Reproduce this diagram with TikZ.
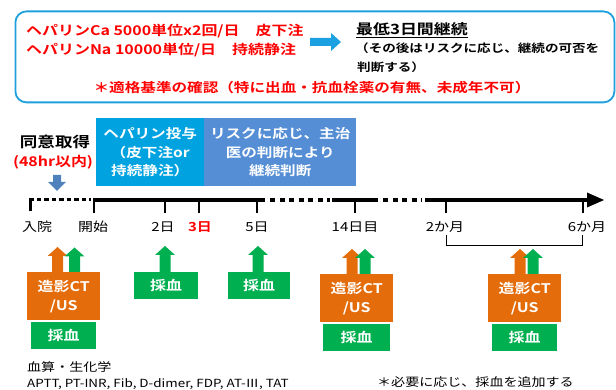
\documentclass[tikz,border=0pt]{standalone}
\usepackage{fontspec}
\setmainfont{Noto Sans CJK JP}[FakeStretch=1.2,BoldFont={Noto Sans CJK JP Bold}]
\usetikzlibrary{arrows.meta}
\definecolor{topblue}{RGB}{30,160,220}
\definecolor{arrblue}{RGB}{27,161,226}
\definecolor{cyanbox}{RGB}{0,163,224}
\definecolor{bluebox}{RGB}{85,142,213}
\definecolor{downblue}{RGB}{79,129,189}
\definecolor{orng}{RGB}{228,108,10}
\definecolor{grn}{RGB}{0,176,80}
\definecolor{redtxt}{RGB}{255,0,0}
\newcommand\blkup[4]{% x, tip y, bottom y, colour
  \fill[#4] (#1-10,#2+9) -- (#1,#2) -- (#1+10,#2+9) -- (#1+5.5,#2+9) -- (#1+5.5,#3) -- (#1-5.5,#3) -- (#1-5.5,#2+9) -- cycle;}
\begin{document}
\begin{tikzpicture}[x=1pt,y=-1pt,
  txt/.style={inner sep=0pt},
  redb/.style={txt,text=redtxt,font=\fontsize{13.3}{16}\selectfont\bfseries},
  blk/.style={txt,font=\fontsize{14.1}{17}\selectfont\bfseries},
  tl/.style={txt,font=\fontsize{12.5}{15}\selectfont},
  wbox/.style={inner sep=0pt,text=white,align=center,font=\fontsize{13.3}{19}\selectfont\bfseries},
  orbox/.style={wbox,fill=orng,minimum width=73pt,minimum height=48pt},
  grbox/.style={wbox,fill=grn,minimum width=65pt,minimum height=27pt},
  tick/.style={line width=2.6pt},
  axis/.style={line width=4pt},
  dots/.style={line width=4pt,dash pattern=on 5pt off 4.5pt}]
\useasboundingbox (0,0) rectangle (616,390);
% top box
\node[draw=topblue,line width=1.8pt,rounded corners=11pt,minimum width=599pt,minimum height=91pt,anchor=north west] (topbox) at (14.5,10.5) {};
\node[redb,anchor=west] (ca) at (26,31) {ヘパリンCa 5000単位x2回/日　皮下注};
\node[redb,anchor=west] (na) at (26,50) {ヘパリンNa 10000単位/日　持続静注};
\fill[arrblue] (310,38) -- (331,38) -- (331,33) -- (341,42) -- (331,51) -- (331,46) -- (310,46) -- cycle;
\node[blk,anchor=west] (min3) at (356,30) {\underline{最低3日間継続}};
\node[blk,anchor=west,font=\fontsize{11.3}{17}\selectfont\bfseries] (after1) at (355,48) {（その後はリスクに応じ、継続の可否を};
\node[blk,anchor=west,font=\fontsize{11.3}{17}\selectfont\bfseries] (after2) at (357,67) {判断する）};
\node[redb,font=\fontsize{13}{16}\selectfont\bfseries] (crit) at (312,88) {＊適格基準の確認（特に出血・抗血栓薬の有無、未成年不可）};
% consent
\node[blk,font=\fontsize{14.6}{20}\selectfont\bfseries] (consent) at (55,142) {同意取得};
\node[redb,font=\fontsize{13.3}{18}\selectfont\bfseries] (h48) at (53,162) {(48hr以内)};
\fill[downblue] (53,175) -- (61,175) -- (61,182) -- (66,182) -- (57,191) -- (48,182) -- (53,182) -- cycle;
% phase boxes
\node[wbox,fill=cyanbox,minimum width=108pt,minimum height=68pt,anchor=north west,font=\fontsize{13}{18.5}\selectfont\bfseries] (hep) at (96,118) {ヘパリン投与\\（皮下注or\\持続静注）};
\node[wbox,fill=bluebox,minimum width=152pt,minimum height=68pt,anchor=north west,font=\fontsize{13}{18.5}\selectfont\bfseries] (risk) at (204,118) {リスクに応じ、主治\\医の判断により\\継続判断};
% timeline
\draw[line width=3pt,dash pattern=on 4.5pt off 3pt] (29,200) -- (91,200);
\draw[axis] (93,200) -- (265,200);
\draw[dots] (270,200) -- (330,200);
\draw[axis] (332,200) -- (378,200);
\draw[dots] (383,200) -- (422,200);
\draw[axis] (425,200) -- (590,200);
\fill (587,192.5) -- (604,200) -- (587,207.5) -- cycle;
\draw[tick] (30.5,200) -- (30.5,211);
\foreach \x in {94,165,199,257,355,446,583} \draw[tick] (\x,199) -- (\x,213);
% labels
\node[tl] (l0) at (37,227) {入院};
\node[tl] (l1) at (93,227) {開始};
\node[tl] (l2) at (163,227) {2日};
\node[tl,text=redtxt,font=\fontsize{12.5}{15}\selectfont\bfseries] (l3) at (200,227) {3日};
\node[tl] (l5) at (257,227) {5日};
\node[tl] (l14) at (355,227) {14日目};
\node[tl] (l2m) at (445,227) {2か月};
\node[tl] (l6m) at (587,227) {6か月};
\draw[line width=1pt] (446.5,235) -- (446.5,245.5) -- (582.5,245.5) -- (582.5,235);
% arrows
\blkup{57.5}{247}{274}{orng}
\blkup{74.5}{247.5}{274}{grn}
\blkup{165}{246}{274}{grn}
\blkup{258}{246}{274}{grn}
\blkup{352}{249}{276}{orng}
\blkup{365}{249}{276}{grn}
\blkup{520}{249}{276}{orng}
\blkup{533}{249}{276}{grn}
% boxes
\node[orbox,anchor=north west] (ct1) at (27,272) {造影CT\\/US};
\node[grbox,anchor=north west] (b1) at (31,322) {採血};
\node[grbox,anchor=north west,minimum width=64pt] (b2) at (134,272) {採血};
\node[grbox,anchor=north west,minimum width=62pt] (b5) at (228,272) {採血};
\node[orbox,anchor=north west] (ct14) at (320,274) {造影CT\\/US};
\node[grbox,anchor=north west,minimum width=67pt] (b14) at (323,324) {採血};
\node[orbox,anchor=north west] (ct6) at (488,274) {造影CT\\/US};
\node[grbox,anchor=north west,minimum width=65pt] (b6) at (492,324) {採血};
% notes
\node[tl,anchor=west,font=\fontsize{11.7}{16}\selectfont] (cbc) at (27,367) {血算・生化学};
\node[tl,anchor=west,font=\fontsize{11.2}{15}\selectfont] (labs) at (27,384) {APTT, PT-INR, Fib, D-dimer, FDP, AT-Ⅲ, TAT};
\node[tl,anchor=west,font=\fontsize{11.7}{16}\selectfont] (note) at (377,382) {＊必要に応じ、採血を追加する};
\end{tikzpicture}
\end{document}
